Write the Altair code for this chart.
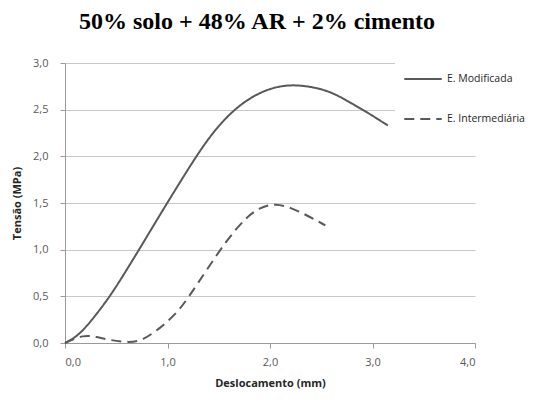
import altair as alt
import pandas as pd

# E. Modificada (solid)
mod_x = [0.0, 0.10, 0.18, 0.28, 0.44, 0.60, 0.75, 0.93, 1.12, 1.28, 1.45, 1.67, 1.93, 2.20, 2.49, 2.65, 2.81, 2.98, 3.15]
mod_y = [0.0, 0.06, 0.14, 0.27, 0.50, 0.78, 1.05, 1.38, 1.72, 2.00, 2.27, 2.53, 2.71, 2.78, 2.73, 2.66, 2.56, 2.45, 2.33]

# E. Intermediária (dashed)
int_x = [0.0, 0.18, 0.31, 0.44, 0.63, 0.76, 0.93, 1.09, 1.20, 1.38, 1.59, 1.77, 1.90, 2.05, 2.23, 2.39, 2.54]
int_y = [0.0, 0.09, 0.065, 0.03, 0.003, 0.03, 0.16, 0.32, 0.48, 0.78, 1.12, 1.35, 1.45, 1.50, 1.44, 1.35, 1.26]

series = ["E. Modificada", "E. Intermediária"]

rows = []
for i, (x, y) in enumerate(zip(mod_x, mod_y)):
    rows.append({"x": x, "y": y, "s": series[0], "o": i})
for i, (x, y) in enumerate(zip(int_x, int_y)):
    rows.append({"x": x, "y": y, "s": series[1], "o": i})
df = pd.DataFrame(rows)

lab = "replace(format(datum.value, '.1f'), '.', ',')"

chart = alt.Chart(df).mark_line(
    interpolate="basis", strokeWidth=2, color="#595959"
).encode(
    x=alt.X("x:Q", scale=alt.Scale(domain=[0, 4], nice=False),
            axis=alt.Axis(values=[0, 1, 2, 3, 4], labelExpr=lab, title="Deslocamento (mm)",
                          grid=False, tickSize=5, labelPadding=8, titlePadding=10)),
    y=alt.Y("y:Q", scale=alt.Scale(domain=[0, 3], nice=False),
            axis=alt.Axis(values=[0, 0.5, 1, 1.5, 2, 2.5, 3], labelExpr=lab, title="Tensão (MPa)",
                          grid=True, tickSize=5, labelPadding=12, titlePadding=10)),
    strokeDash=alt.StrokeDash("s:N", scale=alt.Scale(domain=series, range=[[1, 0], [10, 6]]),
                              legend=alt.Legend(title=None, orient="none", legendX=330, legendY=-12,
                                                symbolType="stroke", symbolSize=1400,
                                                symbolStrokeWidth=2, symbolStrokeColor="#595959",
                                                labelFont="Open Sans", labelFontSize=10.5,
                                                labelColor="#262626", rowPadding=14, labelOffset=4,
                                                fillColor="white", padding=8, labelLimit=200)),
    order="o:Q",
).properties(
    width=410, height=280,
    title=alt.Title("50% solo + 48% AR + 2% cimento", font="Liberation Serif", fontSize=24,
                    fontWeight="bold", color="#000000", anchor="middle", dx=-13, offset=17),
    autosize=alt.AutoSizeParams(type="none"),
    padding={"left": 57, "top": 55, "right": 69, "bottom": 53},
).configure_axis(
    labelFont="Open Sans", labelFontSize=11, labelColor="#595959",
    titleFont="Open Sans", titleFontSize=11, titleFontWeight="bold", titleColor="#262626",
    domainColor="#9a9a9a", tickColor="#9a9a9a", gridColor="#c8c8c8", gridWidth=1,
).configure_view(stroke=None)

chart.save("out.html", embed_options={"renderer": "svg", "actions": False})
